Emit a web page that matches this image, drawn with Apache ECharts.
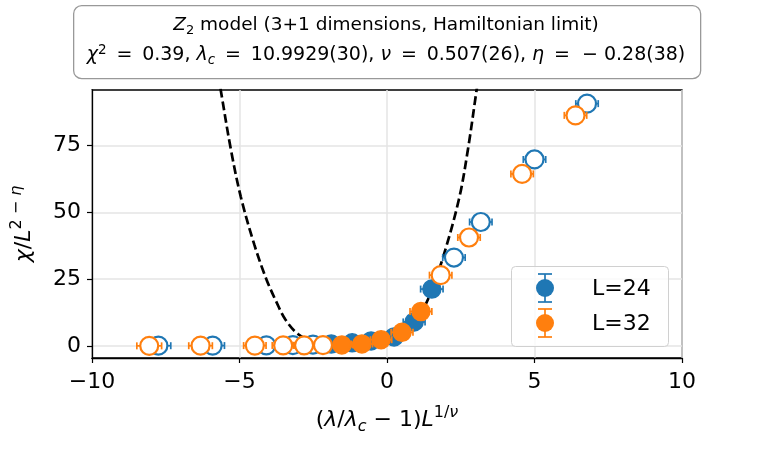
<!DOCTYPE html>
<html>
<head>
<meta charset="utf-8">
<script src="https://cdn.jsdelivr.net/npm/echarts@6/dist/echarts.min.js"></script>
<style>html,body{margin:0;padding:0;background:#fff}#c{width:773px;height:450px}</style>
</head>
<body>
<div id="c"></div>
<script>
// ---- data ----
const blue24FilledX = [-1.89, -1.18, -0.54, 0.24, 0.92, 1.52];
const blue24FilledY = [0.7, 1.2, 1.9, 3.4, 9.0, 21.3];
const blue24FilledErr = [0.36, 0.36, 0.36, 0.37, 0.37, 0.38];
const blue24OpenX = [-7.75, -5.91, -4.09, -3.19, -2.51, 2.27, 3.18, 5.0, 6.78];
const blue24OpenY = [0.1, 0.15, 0.25, 0.35, 0.5, 33.1, 46.4, 69.8, 90.7];
const blue24OpenErr = [0.42, 0.4, 0.38, 0.37, 0.36, 0.38, 0.38, 0.38, 0.38];

const orange32FilledX = [-1.53, -0.85, -0.2, 0.51, 1.15];
const orange32FilledY = [0.4, 0.75, 2.35, 5.1, 12.9];
const orange32FilledErr = [0.36, 0.36, 0.36, 0.37, 0.37];
const orange32OpenX = [-8.06, -6.32, -4.48, -3.52, -2.81, -2.17, 1.82, 2.78, 4.58, 6.39];
const orange32OpenY = [0.05, 0.1, 0.15, 0.2, 0.25, 0.3, 26.5, 40.6, 64.4, 86.3];
const orange32OpenErr = [0.42, 0.4, 0.38, 0.37, 0.36, 0.36, 0.38, 0.38, 0.38, 0.38];

const fitCurveX = [-5.8, -5.64, -5.3, -4.96, -4.5, -4.09, -3.75, -3.45, -3.02, -2.5, -2.0, -1.5, -1.0, -0.5, 0.0, 0.5, 1.0, 1.39, 1.88, 2.44, 2.75, 3.04, 3.15];
const fitCurveY = [106, 96, 74, 56, 38, 25, 16.5, 10, 4.5, 1.6, 0.8, 0.9, 1.4, 2.2, 3.2, 5.3, 10, 17.5, 32.5, 55, 74, 96, 104];

const xTicks = [-10, -5, 0, 5, 10];
const yTicks = [0, 25, 50, 75];
const seriesLabels = ['L=24', 'L=32'];

const BLUE = '#1f77b4', ORANGE = '#ff7f0e';
const FONT = 'DejaVu Sans';

function zip3(a, b, c) { return a.map((v, i) => [v, b[i], c[i]]); }
function zip2(a, b) { return a.map((v, i) => [v, b[i]]); }

function errRender(color) {
  return function (params, api) {
    const x = api.value(0), y = api.value(1), e = api.value(2);
    const p1 = api.coord([x - e, y]), p2 = api.coord([x + e, y]);
    const h = 3.5, st = { stroke: color, lineWidth: 1.7 };
    return { type: 'group', children: [
      { type: 'line', shape: { x1: p1[0], y1: p1[1], x2: p2[0], y2: p2[1] }, style: st },
      { type: 'line', shape: { x1: p1[0], y1: p1[1] - h, x2: p1[0], y2: p1[1] + h }, style: st },
      { type: 'line', shape: { x1: p2[0], y1: p2[1] - h, x2: p2[0], y2: p2[1] + h }, style: st }
    ]};
  };
}

function errSeries(color, x, y, e, z) {
  return { type: 'custom', renderItem: errRender(color), data: zip3(x, y, e),
    encode: { x: 0, y: 1 }, z: z, silent: true, clip: false };
}
function scatterSeries(color, x, y, filled, z) {
  return { type: 'scatter', data: zip2(x, y), symbol: 'circle', symbolSize: 18, z: z, silent: true,
    itemStyle: filled ? { color: color, borderColor: color, borderWidth: 1.5, opacity: 1 }
                      : { color: '#fff', borderColor: color, borderWidth: 2.2, opacity: 1 } };
}

const chart = echarts.init(document.getElementById('c'), null, { renderer: 'canvas' });

function titleRich(f, s) {
  return {
    i: { fontFamily: FONT, fontStyle: 'italic', fontSize: f, lineHeight: 24, color: '#000' },
    sub: { fontFamily: FONT, fontStyle: 'italic', fontSize: s, lineHeight: 15, verticalAlign: 'bottom', color: '#000' },
    subn: { fontFamily: FONT, fontSize: s, lineHeight: 15, verticalAlign: 'bottom', color: '#000' },
    sup: { fontFamily: FONT, fontSize: s, lineHeight: 15, verticalAlign: 'top', color: '#000' },
    n: { fontFamily: FONT, fontSize: f, lineHeight: 24, color: '#000' }
  };
}

const AF = 22, AS = 16;
const axRich = {
  i: { fontFamily: FONT, fontStyle: 'italic', fontSize: AF, lineHeight: 30, color: '#000' },
  n: { fontFamily: FONT, fontSize: AF, lineHeight: 30, color: '#000' },
  sub: { fontFamily: FONT, fontStyle: 'italic', fontSize: AS, lineHeight: 18, verticalAlign: 'bottom', color: '#000' },
  sup: { fontFamily: FONT, fontSize: AS, lineHeight: 18, verticalAlign: 'top', color: '#000' },
  supi: { fontFamily: FONT, fontStyle: 'italic', fontSize: AS, lineHeight: 18, verticalAlign: 'top', color: '#000' }
};

const T = '\u2009';
const option = {
  animation: false,
  backgroundColor: '#fff',
  grid: { left: 92, right: 91, top: 90, bottom: 92, show: true, borderColor: '#000', borderWidth: 1.3, backgroundColor: 'transparent' },
  xAxis: {
    type: 'value', min: -10, max: 10, interval: 5,
    axisLine: { onZero: false, lineStyle: { color: '#000', width: 1.3 } },
    axisTick: { show: true, length: 5, inside: false, lineStyle: { color: '#000', width: 1.2 } },
    axisLabel: { fontFamily: FONT, fontSize: 22, color: '#000', margin: 13,
      formatter: v => (v < 0 ? '\u2212' + Math.abs(v) : String(v)) },
    splitLine: { show: true, lineStyle: { color: '#e5e5e5', width: 1.5 } },
    name: '{n|(}{i|λ}{n|/}{i|λ}{sub|c}{n| − 1)}{i|L}{sup|1/}{supi|ν}',
    nameLocation: 'middle', nameGap: 47,
    nameTextStyle: { rich: axRich, fontFamily: FONT, fontSize: AF }
  },
  yAxis: {
    type: 'value', min: -4.5, max: 95.8,
    axisLine: { onZero: false, lineStyle: { color: '#000', width: 1.3 } },
    axisTick: { show: true, length: 5, inside: false, customValues: yTicks, lineStyle: { color: '#000', width: 1.2 } },
    axisLabel: { fontFamily: FONT, fontSize: 22, color: '#000', margin: 11, customValues: yTicks },
    splitLine: { show: true, lineStyle: { color: '#e5e5e5', width: 1.5 } },
    name: '{i|χ}{n|/}{i|L}{sup|2 − }{supi|η}',
    nameLocation: 'middle', nameGap: 53, nameRotate: 90,
    nameTextStyle: { rich: axRich, fontFamily: FONT, fontSize: AF }
  },
  series: [
    { type: 'line', data: zip2(fitCurveX, fitCurveY), showSymbol: false, smooth: 0.35, z: 1, silent: true,
      clip: true, lineStyle: { color: '#000', width: 2.7, type: [9, 4] } },
    errSeries(BLUE, blue24FilledX, blue24FilledY, blue24FilledErr, 2),
    errSeries(BLUE, blue24OpenX, blue24OpenY, blue24OpenErr, 2),
    scatterSeries(BLUE, blue24FilledX, blue24FilledY, true, 3),
    scatterSeries(BLUE, blue24OpenX, blue24OpenY, false, 3),
    errSeries(ORANGE, orange32FilledX, orange32FilledY, orange32FilledErr, 4),
    errSeries(ORANGE, orange32OpenX, orange32OpenY, orange32OpenErr, 4),
    scatterSeries(ORANGE, orange32FilledX, orange32FilledY, true, 5),
    scatterSeries(ORANGE, orange32OpenX, orange32OpenY, false, 5)
  ],
  graphic: [
    { type: 'rect', left: 73, top: 5, shape: { width: 627, height: 73, r: 8 }, z: 10,
      style: { fill: '#fff', stroke: '#999', lineWidth: 1.3 } },
    { type: 'text', x: 386, y: 25, z: 11,
      style: { text: '{i|Z}{subn|2}{n| model (3+1 dimensions, Hamiltonian limit)}', rich: titleRich(18.5, 13),
        align: 'center', verticalAlign: 'middle', font: '18.5px "DejaVu Sans"' } },
    { type: 'text', x: 386, y: 55, z: 11,
      style: { text: '{i|χ}{sup|2}{n|' + T + ' = ' + T + '0.39, }{i|λ}{sub|c}{n|' + T + ' = ' + T + '10.9929(30), }{i|ν}{n|' + T + ' = ' + T + '0.507(26), }{i|η}{n|' + T + ' =  − 0.28(38)}', rich: titleRich(19, 13.5),
        align: 'center', verticalAlign: 'middle', font: '19px "DejaVu Sans"' } },
    // legend
    { type: 'rect', left: 511, top: 266, shape: { width: 157, height: 80, r: 4 }, z: 10,
      style: { fill: 'rgba(255,255,255,0.8)', stroke: '#d0d0d0', lineWidth: 1 } },
    { type: 'line', shape: { x1: 545, y1: 274, x2: 545, y2: 302 }, z: 11, style: { stroke: BLUE, lineWidth: 1.7 } },
    { type: 'line', shape: { x1: 538, y1: 274, x2: 552, y2: 274 }, z: 11, style: { stroke: BLUE, lineWidth: 1.7 } },
    { type: 'line', shape: { x1: 538, y1: 302, x2: 552, y2: 302 }, z: 11, style: { stroke: BLUE, lineWidth: 1.7 } },
    { type: 'circle', shape: { cx: 545, cy: 288, r: 9 }, z: 12, style: { fill: BLUE } },
    { type: 'text', x: 592, y: 289, z: 12, style: { text: seriesLabels[0], font: '22px "DejaVu Sans"', fill: '#000', verticalAlign: 'middle' } },
    { type: 'line', shape: { x1: 545, y1: 309, x2: 545, y2: 337 }, z: 11, style: { stroke: ORANGE, lineWidth: 1.7 } },
    { type: 'line', shape: { x1: 538, y1: 309, x2: 552, y2: 309 }, z: 11, style: { stroke: ORANGE, lineWidth: 1.7 } },
    { type: 'line', shape: { x1: 538, y1: 337, x2: 552, y2: 337 }, z: 11, style: { stroke: ORANGE, lineWidth: 1.7 } },
    { type: 'circle', shape: { cx: 545, cy: 323, r: 9 }, z: 12, style: { fill: ORANGE } },
    { type: 'text', x: 592, y: 324, z: 12, style: { text: seriesLabels[1], font: '22px "DejaVu Sans"', fill: '#000', verticalAlign: 'middle' } }
  ]
};
chart.setOption(option);
</script>
</body>
</html>
